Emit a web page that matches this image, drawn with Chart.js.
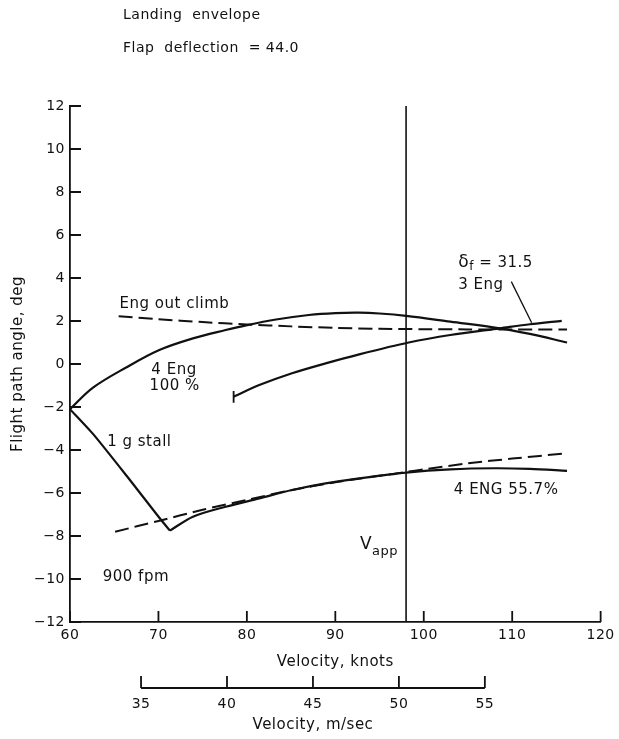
<!DOCTYPE html>
<html>
<head>
<meta charset="utf-8">
<script src="https://cdn.jsdelivr.net/npm/chart.js@4.4.1/dist/chart.umd.min.js"></script>
<style>
  html, body { margin: 0; padding: 0; background: #ffffff; }
  #wrap { width: 619px; height: 739px; position: relative; }
</style>
</head>
<body>
<div id="wrap"><canvas id="c" width="619" height="739"></canvas></div>
<script>
// Axis ticks
const knotTicks = [60, 70, 80, 90, 100, 110, 120];
const angleTicks = [-12, -10, -8, -6, -4, -2, 0, 2, 4, 6, 8, 10, 12];
const msTicks = [35, 40, 45, 50, 55];
const KNOTS_PER_MS = 1.9438;
const vApp = 98;

// 4 engines, 100 % thrust
const eng4FullV = [60, 62.6, 66.4, 70.1, 73.9, 77.6, 79.9, 83.3, 87, 90, 92.7, 95, 98, 103, 108.6, 112, 116.2];
const eng4FullG = [-2.1, -1.1, -0.15, 0.65, 1.19, 1.58, 1.8, 2.07, 2.28, 2.37, 2.39, 2.35, 2.24, 1.97, 1.66, 1.4, 1.0];

// 1 g stall boundary
const stallV = [60, 62.6, 66.4, 70.1, 71.3];
const stallG = [-2.1, -3.25, -5.2, -7.15, -7.75];

// 4 engines, 55.7 % thrust
const eng4PartV = [71.3, 73.9, 77.6, 81.4, 85.1, 88.9, 92.7, 98, 103, 108, 112, 116.2];
const eng4PartG = [-7.75, -7.1, -6.64, -6.25, -5.86, -5.55, -5.32, -5.05, -4.9, -4.85, -4.88, -4.97];

// 900 fpm sink rate (dashed)
const sinkV = [65.1, 70, 75, 80, 85, 90, 95, 98, 100, 105, 110, 116.2];
const sinkG = [-7.8, -7.3, -6.78, -6.32, -5.87, -5.5, -5.2, -5.02, -4.9, -4.62, -4.4, -4.15];

// Engine-out climb (dashed)
const engOutV = [65.5, 70, 75, 80, 85, 90, 95, 100, 105, 110, 116.2];
const engOutG = [2.22, 2.08, 1.95, 1.84, 1.75, 1.68, 1.64, 1.62, 1.61, 1.6, 1.6];

// 3 engines, flap deflection 31.5
const eng3V = [78.5, 81.4, 85.1, 88.9, 92.7, 98.3, 103, 108.6, 112, 115.6];
const eng3G = [-1.52, -0.98, -0.43, 0.03, 0.45, 1.0, 1.35, 1.66, 1.85, 2.01];

// End bar of the 3-engine curve and the leader to its label
const eng3EndV = [78.5, 78.5];
const eng3EndG = [-1.8, -1.25];
const leaderV = [109.9, 112.2];
const leaderG = [3.83, 1.92];

// Approach speed line
const vAppV = [vApp, vApp];
const vAppG = [-12, 12];

const pts = (xs, ys) => xs.map((x, i) => ({ x: x, y: ys[i] }));

const FONT = '"DejaVu Sans", sans-serif';
const INK = '#111111';
const SPACING = '0.5px';

function line(data, dashed, width, tension) {
  return {
    data: data,
    borderColor: INK,
    borderWidth: width,
    borderDash: dashed ? [14, 6] : [],
    pointRadius: 0,
    fill: false,
    tension: tension,
    borderCapStyle: 'butt',
    borderJoinStyle: 'miter'
  };
}

// Text placed inside the plot, in axis units
const plotLabels = [
  { text: 'Eng out climb', x: 65.6, y: 2.79 },
  { text: '4 Eng', x: 69.2, y: -0.28 },
  { text: '100 %', x: 69.0, y: -1.02 },
  { text: '1 g stall', x: 64.2, y: -3.63 },
  { text: '900 fpm', x: 63.7, y: -9.9 },
  { text: '3 Eng', x: 103.9, y: 3.67 },
  { text: '4 ENG 55.7%', x: 103.4, y: -5.86 }
];

const decorations = {
  id: 'decorations',
  beforeDraw(chart) {
    chart.ctx.letterSpacing = SPACING;
  },
  afterDraw(chart) {
    const ctx = chart.ctx;
    const xs = chart.scales.x, ys = chart.scales.y;
    const area = chart.chartArea;
    ctx.save();
    ctx.letterSpacing = SPACING;
    ctx.strokeStyle = INK;
    ctx.fillStyle = INK;
    ctx.lineWidth = 1.8;

    // inward tick marks
    ctx.beginPath();
    angleTicks.forEach(v => {
      const py = ys.getPixelForValue(v);
      ctx.moveTo(area.left, py);
      ctx.lineTo(area.left + 11, py);
    });
    knotTicks.forEach(v => {
      const px = xs.getPixelForValue(v);
      ctx.moveTo(px, area.bottom);
      ctx.lineTo(px, area.bottom - 11);
    });
    ctx.stroke();

    // secondary speed axis in m/sec
    const axisY = 688;
    const x0 = xs.getPixelForValue(msTicks[0] * KNOTS_PER_MS);
    const x1 = xs.getPixelForValue(msTicks[msTicks.length - 1] * KNOTS_PER_MS);
    ctx.beginPath();
    ctx.moveTo(x0, axisY);
    ctx.lineTo(x1, axisY);
    msTicks.forEach(v => {
      const px = xs.getPixelForValue(v * KNOTS_PER_MS);
      ctx.moveTo(px, axisY);
      ctx.lineTo(px, axisY - 12);
    });
    ctx.stroke();
    ctx.font = '14px ' + FONT;
    ctx.textAlign = 'center';
    ctx.textBaseline = 'middle';
    msTicks.forEach(v => {
      ctx.fillText(String(v), xs.getPixelForValue(v * KNOTS_PER_MS), axisY + 16);
    });
    ctx.font = '15px ' + FONT;
    ctx.fillText('Velocity, m/sec', (x0 + x1) / 2, axisY + 37);

    // curve labels
    ctx.textAlign = 'left';
    plotLabels.forEach(l => {
      ctx.fillText(l.text, xs.getPixelForValue(l.x), ys.getPixelForValue(l.y));
    });

    // headings
    ctx.font = '14px ' + FONT;
    ctx.fillText('Landing  envelope', 123, 15);
    ctx.fillText('Flap  deflection  = 44.0', 123, 48);

    // delta-f label
    let lx = xs.getPixelForValue(103.9), ly = ys.getPixelForValue(4.7);
    ctx.font = '17px ' + FONT;
    ctx.fillText('\u03B4', lx, ly);
    lx += ctx.measureText('\u03B4').width;
    ctx.font = '12px ' + FONT;
    ctx.fillText('f', lx, ly + 4);
    lx += ctx.measureText('f').width;
    ctx.font = '15px ' + FONT;
    ctx.fillText(' = 31.5', lx, ly);

    // V_app label, right-aligned next to the approach line
    const vx = xs.getPixelForValue(vApp) - 8, vy = ys.getPixelForValue(-8.6);
    ctx.textBaseline = 'alphabetic';
    ctx.textAlign = 'right';
    ctx.font = '13px ' + FONT;
    ctx.fillText('app', vx, vy + 6);
    const sw = ctx.measureText('app').width;
    ctx.font = '17px ' + FONT;
    ctx.fillText('V', vx - sw, vy);
    ctx.restore();
  }
};

Chart.defaults.font.family = FONT;
Chart.defaults.color = INK;

new Chart(document.getElementById('c'), {
  type: 'line',
  data: {
    datasets: [
      line(pts(eng4FullV, eng4FullG), false, 2.2, 0.35),
      line(pts(stallV, stallG), false, 2.2, 0.2),
      line(pts(eng4PartV, eng4PartG), false, 2.2, 0.3),
      line(pts(sinkV, sinkG), true, 2.0, 0.3),
      line(pts(engOutV, engOutG), true, 2.0, 0.3),
      line(pts(eng3V, eng3G), false, 2.2, 0.3),
      line(pts(eng3EndV, eng3EndG), false, 1.8, 0),
      line(pts(leaderV, leaderG), false, 1.3, 0),
      line(pts(vAppV, vAppG), false, 1.6, 0)
    ]
  },
  options: {
    responsive: false,
    animation: false,
    events: [],
    layout: { padding: { top: 106, right: 16, left: 0, bottom: 0 } },
    plugins: { legend: { display: false }, tooltip: { enabled: false }, title: { display: false } },
    scales: {
      x: {
        type: 'linear',
        min: 60, max: 120,
        afterBuildTicks: s => { s.ticks = knotTicks.map(v => ({ value: v })); },
        afterFit: s => { s.height = 117; },
        grid: { display: false, drawTicks: false },
        border: { display: true, color: INK, width: 1.8 },
        ticks: { padding: 5, font: { size: 14 }, color: INK, autoSkip: false, maxRotation: 0 },
        title: { display: true, text: 'Velocity, knots', font: { size: 15 }, color: INK, padding: { top: 0, bottom: 68 } }
      },
      y: {
        type: 'linear',
        min: -12, max: 12,
        afterBuildTicks: s => { s.ticks = angleTicks.map(v => ({ value: v })); },
        afterFit: s => { s.width = 70; },
        grid: { display: false, drawTicks: false },
        border: { display: true, color: INK, width: 1.8 },
        ticks: { padding: 5, font: { size: 14 }, color: INK, autoSkip: false,
                 callback: v => (v < 0 ? '\u2212' + Math.abs(v) : String(v)) },
        title: { display: true, text: 'Flight path angle, deg', font: { size: 15 }, color: INK, padding: { top: 9, bottom: 0 } }
      }
    }
  },
  plugins: [decorations]
});
</script>
</body>
</html>
